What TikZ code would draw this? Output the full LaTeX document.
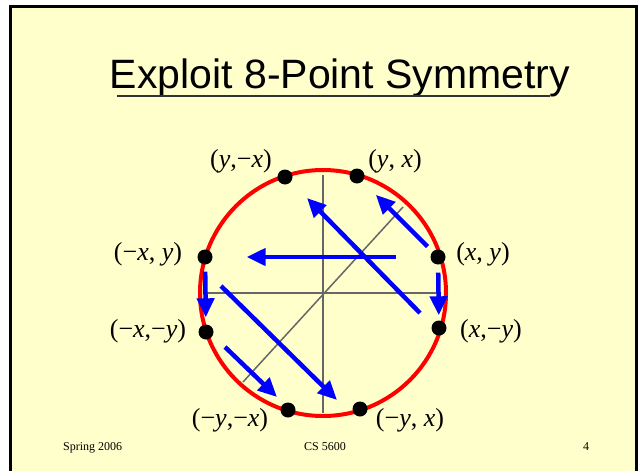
\documentclass[tikz,border=0pt]{standalone}
\usepackage{fontspec}
\setmainfont{Liberation Serif}
\newfontfamily\titlefont{Liberation Sans}
\usetikzlibrary{arrows.meta}
\definecolor{slidebg}{HTML}{FFFFCC}
\definecolor{circred}{HTML}{FF0000}
\definecolor{arrblue}{HTML}{0000FF}
\definecolor{axisgray}{HTML}{666666}

\tikzset{
  sympt/.style={circle,fill=black,inner sep=0pt,minimum size=15pt},
  ptlabel/.style={font=\fontsize{26}{30}\selectfont,inner sep=0pt},
  mirror/.style={arrblue,line width=4.5pt,-{Triangle[length=19pt,width=17pt]}},
  axisline/.style={axisgray,line width=1.5pt},
  footer/.style={font=\fontsize{12}{14}\selectfont,inner sep=0pt,anchor=base}
}
\newcommand{\xx}{\textit{x}}
\newcommand{\yy}{\textit{y}}

\begin{document}
\begin{tikzpicture}[x=1pt,y=-1pt]
  \useasboundingbox (0,0) rectangle (640,471);
  % slide frame
  \fill[slidebg] (10,6) rectangle (638,480);
  \draw[black,line width=3pt] (10.5,490) -- (10.5,6.5) -- (636.5,6.5) -- (636.5,490);

  % title
  \node[font=\titlefont\fontsize{41}{48}\selectfont,inner sep=0pt,anchor=base] (title) at (340,88) {Exploit 8-Point Symmetry};
  \draw[black!80,line width=1.8pt] (117,96) -- (550,96);

  % axes and circle
  \coordinate (o) at (323,293);
  \draw[axisline] (205,293) -- (437,293);
  \draw[axisline] (323,175) -- (323,413);
  \draw[axisline] (243,382) -- (403,207);
  \draw[circred,line width=4pt] (o) circle (123pt);

  % the eight points
  \node[sympt] (yx)   at (357,176) {};
  \node[sympt] (ynx)  at (285,177) {};
  \node[sympt] (nxy)  at (205,257) {};
  \node[sympt] (xy)   at (438,257) {};
  \node[sympt] (nxny) at (206,332) {};
  \node[sympt] (xny)  at (439,328) {};
  \node[sympt] (nynx) at (288,410) {};
  \node[sympt] (nyx)  at (360,409) {};

  \node[ptlabel] (l-ynx)  at (241,161) {(\yy,−\xx)};
  \node[ptlabel] (l-yx)   at (395,161) {(\yy, \xx)};
  \node[ptlabel] (l-nxy)  at (148,254) {(−\xx, \yy)};
  \node[ptlabel] (l-xy)   at (483,254) {(\xx, \yy)};
  \node[ptlabel] (l-nxny) at (148,331) {(−\xx,−\yy)};
  \node[ptlabel] (l-xny)  at (491,331) {(\xx,−\yy)};
  \node[ptlabel] (l-nynx) at (230,420) {(−\yy,−\xx)};
  \node[ptlabel] (l-nyx)  at (410,420) {(−\yy, \xx)};

  % mirror arrows
  \coordinate (a2s) at (420,313);
  \coordinate (a2e) at (307,198);
  \coordinate (a6s) at (221,286);
  \coordinate (a6e) at (337,400);
  \coordinate (a7s) at (225,347);
  \coordinate (a7e) at (277,397);
  \draw[mirror,shorten <=7pt,shorten >=19pt] (xy) -- (yx);
  \draw[mirror,shorten <=34pt,shorten >=34pt] (xy) -- (nxy);
  \draw[mirror,shorten <=7pt,shorten >=7pt] (nxy) -- (nxny);
  \draw[mirror,shorten <=8pt,shorten >=5pt] (xy) -- (xny);
  \draw[mirror] (a2s) -- (a2e);
  \draw[mirror] (a6s) -- (a6e);
  \draw[mirror] (a7s) -- (a7e);

  % footer
  \node[footer,anchor=base west] (f-date) at (63,450) {Spring 2006};
  \node[footer] (f-course) at (325,450) {CS 5600};
  \node[footer] (f-page) at (586,450) {4};
\end{tikzpicture}
\end{document}
